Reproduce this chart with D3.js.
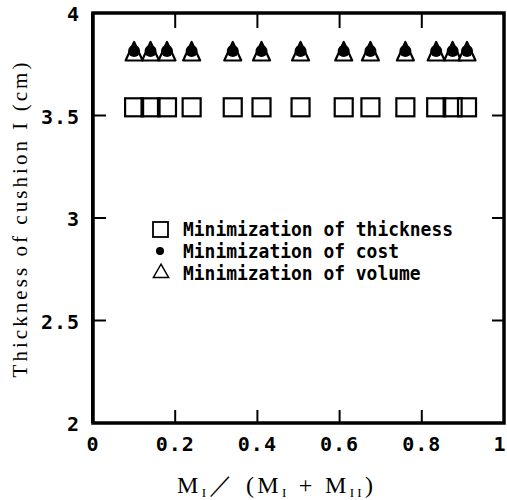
<!DOCTYPE html>
<html>
<head>
<meta charset="utf-8">
<script src="https://cdn.jsdelivr.net/npm/d3@7"></script>
<style>
  body { margin: 0; background: #fff; }
  svg { display: block; }
</style>
</head>
<body>
<svg id="chart" width="507" height="500"></svg>
<script>
// ratio M_I / (M_I + M_II)
const ratios = [0.10, 0.14, 0.18, 0.24, 0.34, 0.41, 0.505, 0.61, 0.675, 0.76, 0.835, 0.875, 0.91]
const thicknessMin = [3.54, 3.54, 3.54, 3.54, 3.54, 3.54, 3.54, 3.54, 3.54, 3.54, 3.54, 3.54, 3.54]
const costMin = [3.815, 3.815, 3.815, 3.815, 3.815, 3.815, 3.815, 3.815, 3.815, 3.815, 3.815, 3.815, 3.815]
const volumeMin = [3.80, 3.80, 3.80, 3.80, 3.80, 3.80, 3.80, 3.80, 3.80, 3.80, 3.80, 3.80, 3.80]
const xTicks = [0, 0.2, 0.4, 0.6, 0.8, 1]
const yTicks = [2, 2.5, 3, 3.5, 4]
const legendLabels = ['Minimization of thickness', 'Minimization of cost', 'Minimization of volume']

const svg = d3.select('#chart')
const plotLeft = 93
const plotRight = 504
const plotTop = 13
const plotBottom = 423

const xScale = d3.scaleLinear().domain([0, 1]).range([plotLeft, plotRight])
const yScale = d3.scaleLinear().domain([2, 4]).range([plotBottom, plotTop])

const mono = '"DejaVu Sans Mono", monospace'
const serif = '"Liberation Serif", serif'

// inner ticks on all four sides
const innerX = xTicks.filter(t => t > 0 && t < 1)
const innerY = yTicks.filter(t => t > 2 && t < 4)
const tickG = svg.append('g').attr('stroke', '#000').attr('stroke-width', 2)
innerX.forEach(t => {
  tickG.append('line').attr('x1', xScale(t)).attr('x2', xScale(t)).attr('y1', plotTop).attr('y2', plotTop + 15)
  tickG.append('line').attr('x1', xScale(t)).attr('x2', xScale(t)).attr('y1', plotBottom).attr('y2', plotBottom - 13)
})
innerY.forEach(t => {
  tickG.append('line').attr('x1', plotLeft).attr('x2', plotLeft + 13).attr('y1', yScale(t)).attr('y2', yScale(t))
  tickG.append('line').attr('x1', plotRight).attr('x2', plotRight - 12).attr('y1', yScale(t)).attr('y2', yScale(t))
})

// frame
svg.append('rect')
  .attr('x', plotLeft).attr('y', plotTop)
  .attr('width', plotRight - plotLeft).attr('height', plotBottom - plotTop)
  .attr('fill', 'none').attr('stroke', '#000').attr('stroke-width', 3.5)
svg.append('line')
  .attr('x1', plotLeft - 1).attr('x2', plotLeft - 1).attr('y1', plotTop).attr('y2', plotBottom)
  .attr('stroke', '#000').attr('stroke-width', 2)

// tick labels
svg.append('g').selectAll('text')
  .data(xTicks)
  .enter()
  .append('text')
  .attr('x', d => Math.min(xScale(d), 500))
  .attr('y', 451)
  .attr('text-anchor', 'middle')
  .attr('letter-spacing', 1)
  .style('font-family', mono)
  .style('font-size', '20px')
  .style('font-weight', 'bold')
  .text(d => d3.format('')(d))

svg.append('g').selectAll('text')
  .data(yTicks)
  .enter()
  .append('text')
  .attr('x', 80)
  .attr('y', d => yScale(d) + 8)
  .attr('text-anchor', 'end')
  .attr('letter-spacing', 1)
  .style('font-family', mono)
  .style('font-size', '20px')
  .style('font-weight', 'bold')
  .text(d => d3.format('')(d))

// markers
const triShape = d3.line()([[0, -12], [8.5, 6.5], [-8.5, 6.5]]) + 'Z'

svg.append('g').selectAll('rect')
  .data(ratios)
  .enter()
  .append('rect')
  .attr('x', d => xScale(d) - 9)
  .attr('y', (d, i) => yScale(thicknessMin[i]) - 9)
  .attr('width', 18)
  .attr('height', 18)
  .attr('fill', 'none')
  .attr('stroke', '#000')
  .attr('stroke-width', 2.2)

svg.append('g').selectAll('path')
  .data(ratios)
  .enter()
  .append('path')
  .attr('d', triShape)
  .attr('transform', (d, i) => `translate(${xScale(d)},${yScale(volumeMin[i])})`)
  .attr('fill', '#fff')
  .attr('stroke', '#000')
  .attr('stroke-width', 2.2)
  .attr('stroke-linejoin', 'round')

svg.append('g').selectAll('circle')
  .data(ratios)
  .enter()
  .append('circle')
  .attr('cx', d => xScale(d))
  .attr('cy', (d, i) => yScale(costMin[i]))
  .attr('r', 6)
  .attr('fill', '#000')

// legend
const legend = svg.append('g')
const rowY = [228, 250, 272]
legend.append('rect').attr('x', 153).attr('y', rowY[0] - 6).attr('width', 15).attr('height', 15)
  .attr('fill', 'none').attr('stroke', '#000').attr('stroke-width', 1.8)
legend.append('circle').attr('cx', 160).attr('cy', rowY[1] + 1).attr('r', 4).attr('fill', '#000')
legend.append('path').attr('d', d3.symbol().type(d3.symbolTriangle).size(100))
  .attr('transform', `translate(161,${rowY[2] + 1})`)
  .attr('fill', 'none').attr('stroke', '#000').attr('stroke-width', 1.5)
legend.selectAll('text')
  .data(legendLabels)
  .enter()
  .append('text')
  .attr('x', 183)
  .attr('y', (d, i) => rowY[i] + 8)
  .attr('textLength', d => d.length * 10.8)
  .attr('lengthAdjust', 'spacingAndGlyphs')
  .style('font-family', mono)
  .style('font-size', '19px')
  .style('font-weight', 'bold')
  .text(d => d)

// axis titles
svg.append('text')
  .attr('transform', 'translate(27,220) rotate(-90)')
  .attr('text-anchor', 'middle')
  .attr('textLength', 315)
  .attr('lengthAdjust', 'spacing')
  .style('font-family', serif)
  .style('font-size', '21px')
  .text('Thickness of cushion I (cm)')

const xt = svg.append('text')
  .attr('x', 275)
  .attr('y', 493)
  .attr('text-anchor', 'middle')
  .attr('textLength', 196)
  .attr('lengthAdjust', 'spacing')
  .style('font-family', serif)
  .style('font-size', '24px')
xt.append('tspan').text('M')
xt.append('tspan').attr('dy', 4).style('font-size', '13px').text('I')
xt.append('tspan').attr('dy', -4).text('\uFF0F (M')
xt.append('tspan').attr('dy', 4).style('font-size', '13px').text('I')
xt.append('tspan').attr('dy', -4).text(' + M')
xt.append('tspan').attr('dy', 4).style('font-size', '13px').text('II')
xt.append('tspan').attr('dy', -4).text(')')
</script>
</body>
</html>
